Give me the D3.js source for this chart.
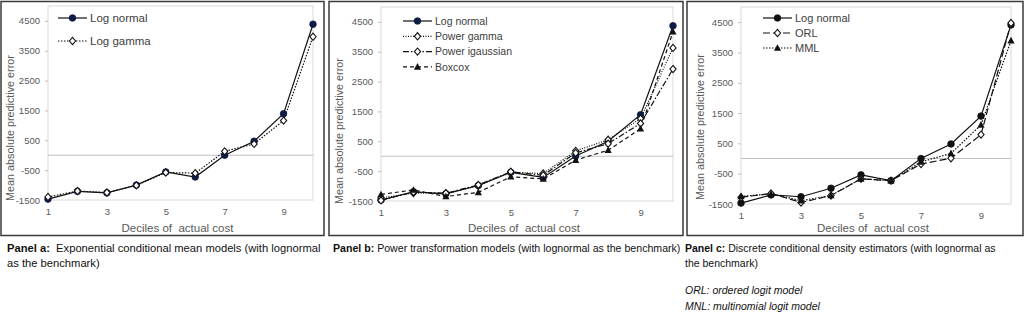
<!DOCTYPE html>
<html>
<head>
<meta charset="utf-8">
<script src="https://cdn.jsdelivr.net/npm/d3@7"></script>
<style>
  body { margin: 0; background: #fff; }
  svg { display: block; font-family: "Liberation Sans", "DejaVu Sans", sans-serif; }
</style>
</head>
<body>
<div id="chart"></div>
<script>
// deciles 1..10
const deciles = [1, 2, 3, 4, 5, 6, 7, 8, 9, 10];
const yTicks = [-1500, -500, 500, 1500, 2500, 3500, 4500];
const xTicks = [1, 3, 5, 7, 9];

// panel a
const logNormalA = [-1470, -1210, -1260, -1000, -560, -730, 0, 470, 1390, 4390];
const logGammaA  = [-1400, -1200, -1250, -1010, -580, -600, 130, 380, 1160, 3970];

// panel b
const logNormalB      = [-1470, -1190, -1260, -980, -540, -710, 10, 500, 1390, 4370];
const powerGammaB     = [-1400, -1230, -1250, -990, -540, -580, 180, 550, 1260, 3630];
const powerIgaussianB = [-1480, -1200, -1240, -960, -520, -640, 110, 420, 1100, 2920];
const boxcoxB         = [-1280, -1130, -1350, -1210, -690, -760, -130, 200, 920, 4170];

// panel c
const logNormalC = [-1470, -1200, -1260, -980, -540, -730, 0, 480, 1400, 4410];
const orlC       = [-1280, -1150, -1450, -1220, -670, -730, -180, 10, 790, 4470];
const mmlC       = [-1250, -1170, -1390, -1220, -670, -730, -110, 170, 1110, 3890];

const width = 1026, height = 312;
const svg = d3.select("#chart").append("svg")
    .attr("width", width).attr("height", height);

const NAVY = "#0d1b45";

function marker(g, type, x, y, fill) {
    if (type === "circle") {
        g.append("circle").attr("cx", x).attr("cy", y).attr("r", 3.3)
            .attr("fill", fill).attr("stroke", fill).attr("stroke-width", 0.8);
    } else if (type === "diamond") {
        g.append("path")
            .attr("d", `M${x},${y - 3.6}L${x + 3.1},${y}L${x},${y + 3.6}L${x - 3.1},${y}Z`)
            .attr("fill", "#fff").attr("stroke", "#111").attr("stroke-width", 1.1);
    } else if (type === "triangle") {
        g.append("path")
            .attr("d", `M${x},${y - 3.8}L${x + 3.6},${y + 2.8}L${x - 3.6},${y + 2.8}Z`)
            .attr("fill", "#111");
    }
}

function drawPanel(p) {
    // outer frame
    svg.append("rect")
        .attr("x", p.frame[0]).attr("y", 1.5)
        .attr("width", p.frame[1] - p.frame[0]).attr("height", 234)
        .attr("fill", "none").attr("stroke", "#3a3a3a").attr("stroke-width", 1.5);

    const x = d3.scaleLinear().domain([1, 10]).range([p.left, p.right]);
    const y = d3.scaleLinear().domain([-1500, 5000]).range([p.bottom, p.top]);

    const g = svg.append("g");

    // plot area border
    g.append("rect")
        .attr("x", p.left).attr("y", p.top)
        .attr("width", p.right - p.left).attr("height", p.bottom - p.top)
        .attr("fill", "none").attr("stroke", "#d9d9d9").attr("stroke-width", 1);

    // zero line
    g.append("line")
        .attr("x1", p.left).attr("x2", p.right)
        .attr("y1", y(0)).attr("y2", y(0))
        .attr("stroke", "#bfbfbf").attr("stroke-width", 1);

    const yAxis = g.append("g")
        .attr("transform", `translate(${p.left},0)`)
        .call(d3.axisLeft(y).tickValues(yTicks).tickSize(3).tickPadding(5)
            .tickFormat(d => String(d)));
    yAxis.select(".domain").remove();
    yAxis.selectAll(".tick line").attr("stroke", "#bfbfbf");
    yAxis.selectAll("text").attr("fill", "#595959").style("font-size", "9.5px");

    const xAxis = g.append("g")
        .attr("transform", `translate(0,${p.bottom})`)
        .call(d3.axisBottom(x).tickValues(xTicks).tickSize(0).tickPadding(8)
            .tickFormat(d => String(d)));
    xAxis.select(".domain").remove();
    xAxis.selectAll("text").attr("fill", "#595959").style("font-size", "9.5px");

    g.append("text")
        .attr("x", (p.left + p.right) / 2 - 3).attr("y", 232)
        .attr("text-anchor", "middle").attr("fill", "#595959")
        .style("font-size", "11.5px")
        .text("Deciles of\u00a0 actual cost");

    g.append("text")
        .attr("transform", `translate(${p.ytitleX},${p.ytitleY}) rotate(-90)`)
        .attr("text-anchor", "middle").attr("fill", "#595959")
        .style("font-size", "10.8px")
        .text("Mean absolute predictive error");

    const line = d3.line().x((d, i) => x(deciles[i])).y(d => y(d));

    p.series.forEach(s => {
        g.append("path")
            .datum(s.values)
            .attr("d", line)
            .attr("fill", "none")
            .attr("stroke", "#111")
            .attr("stroke-width", 1.2)
            .attr("stroke-dasharray", s.dash);
    });
    p.series.forEach(s => {
        s.values.forEach((v, i) => marker(g, s.marker, x(deciles[i]), y(v), s.fill));
    });

    // legend
    p.series.forEach((s, i) => {
        const ly = p.legend.y + i * p.legend.step;
        g.append("line")
            .attr("x1", p.legend.x).attr("x2", p.legend.x + 29)
            .attr("y1", ly).attr("y2", ly)
            .attr("stroke", "#111").attr("stroke-width", 1.2)
            .attr("stroke-dasharray", s.dash);
        marker(g, s.marker, p.legend.x + 14.5, ly, s.fill);
        g.append("text")
            .attr("x", p.legend.x + 32).attr("y", ly)
            .attr("dy", "0.35em").attr("fill", "#404040")
            .style("font-size", p.legend.size)
            .text(s.name);
    });
}

drawPanel({
    frame: [1, 324], left: 48, right: 313, top: 6, bottom: 200,
    ytitleX: 14, ytitleY: 128,
    legend: { x: 58, y: 18, step: 23, size: "11.5px" },
    series: [
        { name: "Log normal", values: logNormalA, dash: null, marker: "circle", fill: NAVY },
        { name: "Log gamma", values: logGammaA, dash: "1.5,1.5", marker: "diamond" }
    ]
});

drawPanel({
    frame: [329, 683], left: 381, right: 673, top: 7, bottom: 201,
    ytitleX: 343, ytitleY: 131,
    legend: { x: 403, y: 21, step: 15.3, size: "10.5px" },
    series: [
        { name: "Log normal", values: logNormalB, dash: null, marker: "circle", fill: NAVY },
        { name: "Power gamma", values: powerGammaB, dash: "1,1.5", marker: "diamond" },
        { name: "Power igaussian", values: powerIgaussianB, dash: "6,2,1.5,2", marker: "diamond" },
        { name: "Boxcox", values: boxcoxB, dash: "4,3", marker: "triangle" }
    ]
});

drawPanel({
    frame: [687, 1023], left: 741, right: 1011, top: 7, bottom: 204,
    ytitleX: 704, ytitleY: 127,
    legend: { x: 763, y: 18, step: 15, size: "11px" },
    series: [
        { name: "Log normal", values: logNormalC, dash: null, marker: "circle", fill: "#111" },
        { name: "ORL", values: orlC, dash: "7,3", marker: "diamond" },
        { name: "MML", values: mmlC, dash: "1.5,1.5", marker: "triangle" }
    ]
});

// captions
const captions = [
    { x: 7, size: "11.2px", bold: "Panel a:", lines: ["\u00a0 Exponential conditional mean models (with lognormal", "as the benchmark)"] },
    { x: 333, size: "10.6px", bold: "Panel b:", lines: [" Power transformation models (with lognormal as the benchmark)"] },
    { x: 685, size: "10.5px", bold: "Panel c:", lines: [" Discrete conditional density estimators (with lognormal as", "the benchmark)"] }
];
captions.forEach(c => {
    const t = svg.append("text")
        .attr("x", c.x).attr("y", 252)
        .attr("fill", "#111").style("font-size", c.size);
    t.append("tspan").attr("font-weight", "bold").text(c.bold);
    t.append("tspan").text(c.lines[0]);
    if (c.lines[1]) {
        svg.append("text")
            .attr("x", c.x).attr("y", 267)
            .attr("fill", "#111").style("font-size", c.size)
            .text(c.lines[1]);
    }
});
const notes = ["ORL: ordered logit model", "MNL: multinomial logit model"];
notes.forEach((n, i) => {
    svg.append("text")
        .attr("x", 685).attr("y", 294 + i * 16)
        .attr("fill", "#111").style("font-size", "10.5px")
        .style("font-style", "italic")
        .text(n);
});
</script>
</body>
</html>
